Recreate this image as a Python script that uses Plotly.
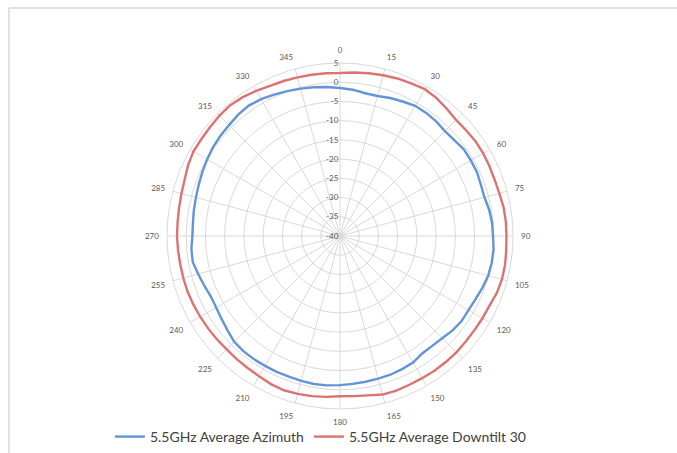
import plotly.graph_objects as go

# Measured gain (dB) every 5 degrees, 0..355
angles = list(range(0, 360, 5))

azimuth_55 = [
    -1.5, -1.8, -2.3, -2.3, -1.8, -1.4, -0.9, -0.9, -1.1, -1.4, -1.2, -0.7,
    -0.7, -0.7, -1.0, -1.1, -0.6, -0.3, -0.2, 0.1, 0.1, -0.1, -0.6, -1.1,
    -1.4, -1.4, -1.8, -2.4, -2.7, -2.7, -2.0, -1.8, -1.6, -1.6, -1.5, -1.4,
    -1.2, -1.0, -0.9, -1.0, -1.1, -1.0, -1.0, -0.9, -0.9, -1.1, -1.8, -2.4,
    -2.8, -2.9, -2.4, -1.8, -1.1, -1.2, -1.6, -1.6, -1.4, -1.2, -0.9, -0.5,
    -0.1, 0.3, 0.6, 0.8, 1.2, 1.4, 1.1, 0.6, 0.1, -0.3, -0.7, -1.1,
]

downtilt30_55 = [
    2.4, 2.7, 3.0, 3.3, 3.6, 3.8, 4.1, 3.8, 3.2, 2.7, 2.8, 3.0,
    3.0, 2.9, 2.8, 2.9, 3.2, 3.3, 3.3, 3.4, 3.6, 3.6, 3.4, 2.9,
    2.8, 2.7, 2.7, 2.8, 2.8, 2.8, 2.7, 2.7, 2.8, 2.7, 2.1, 1.8,
    1.7, 2.0, 2.3, 2.5, 2.7, 2.5, 2.1, 1.9, 1.8, 1.7, 1.8, 1.9,
    2.0, 2.1, 2.2, 2.2, 2.2, 2.3, 2.4, 2.4, 2.5, 2.7, 3.0, 3.6,
    4.0, 4.0, 4.1, 4.3, 4.4, 4.1, 3.6, 3.1, 2.9, 2.7, 2.6, 2.5,
]

series_names = ["5.5GHz Average Azimuth", "5.5GHz Average Downtilt 30"]
series_colors = ["#6294D8", "#DC7371"]

angle_ticks = list(range(0, 360, 15))
angle_labels = [str(a) for a in angle_ticks]
radial_ticks = list(range(-40, 10, 5))
radial_labels = [str(v) for v in radial_ticks]

W, H = 677, 453
cx, cy, R = 340, 236, 173

fig = go.Figure()
for name, vals, color in zip(series_names, [azimuth_55, downtilt30_55], series_colors):
    fig.add_trace(go.Scatterpolar(
        r=vals + vals[:1],
        theta=angles + angles[:1],
        mode="lines",
        name=name,
        line=dict(color=color, width=2.4),
    ))

grid = "#D9D9D9"
label_font = dict(family="Lato, DejaVu Sans, sans-serif", size=8, color="#595959")

fig.update_layout(
    width=W, height=H,
    margin=dict(l=0, r=0, t=0, b=0),
    paper_bgcolor="white",
    plot_bgcolor="white",
    showlegend=True,
    legend=dict(
        orientation="h",
        x=0.474, xanchor="center",
        y=(H - 437) / H, yanchor="middle",
        font=dict(family="Lato, DejaVu Sans, sans-serif", size=14, color="#404040"),
        itemwidth=30,
        bgcolor="rgba(0,0,0,0)",
    ),
    polar=dict(
        domain=dict(
            x=[(cx - R) / W, (cx + R) / W],
            y=[(H - cy - R) / H, (H - cy + R) / H],
        ),
        bgcolor="white",
        angularaxis=dict(
            direction="clockwise",
            rotation=90,
            tickmode="array",
            tickvals=angle_ticks,
            ticktext=angle_labels,
            tickfont=label_font,
            ticks="outside",
            ticklen=6,
            tickcolor="rgba(0,0,0,0)",
            showgrid=True,
            gridcolor=grid,
            gridwidth=1,
            showline=True,
            linecolor=grid,
            linewidth=1,
        ),
        radialaxis=dict(
            range=[-40, 5],
            angle=90,
            side="counterclockwise",
            tickmode="array",
            tickvals=radial_ticks,
            ticktext=radial_labels,
            tickfont=label_font,
            tickangle=90,
            ticks="",
            showline=False,
            showgrid=True,
            gridcolor=grid,
            gridwidth=1,
        ),
    ),
    shapes=[
        # chart area frame (top and left edges visible)
        dict(type="line", xref="paper", yref="paper",
             x0=9 / W, x1=1.0, y0=1 - 8 / H, y1=1 - 8 / H,
             line=dict(color="#D9D9D9", width=1.5)),
        dict(type="line", xref="paper", yref="paper",
             x0=9 / W, x1=9 / W, y0=0.0, y1=1 - 8 / H,
             line=dict(color="#D9D9D9", width=1.5)),
    ],
)

fig.write_html("out.html")
